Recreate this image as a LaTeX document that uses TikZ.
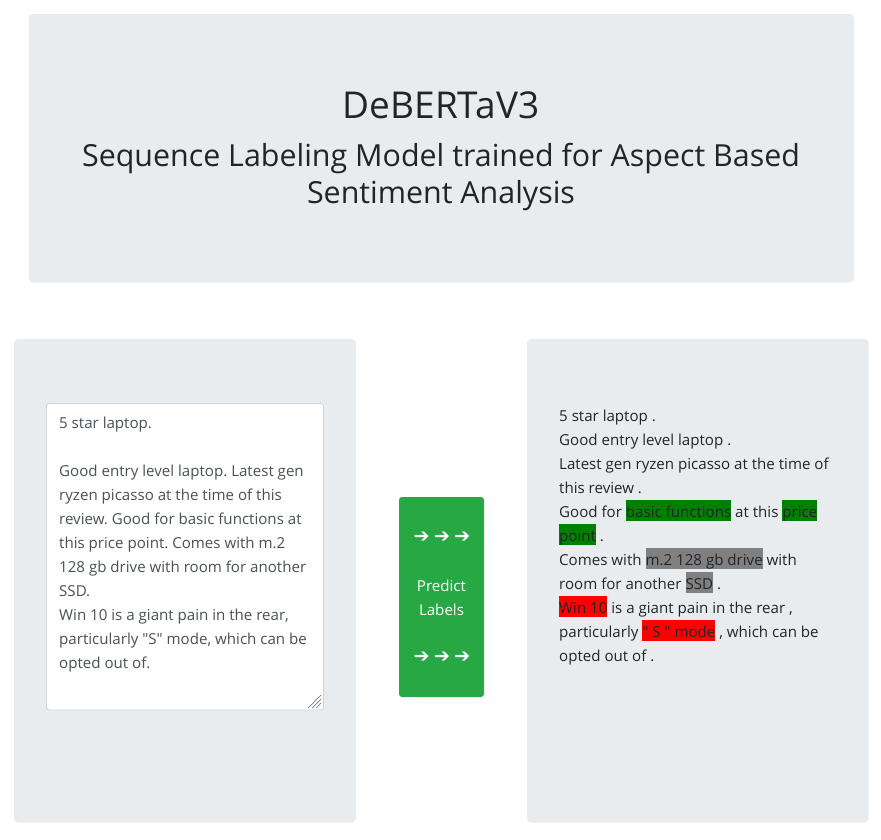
\documentclass[tikz,border=0pt]{standalone}
\usepackage{fontspec}
\setmainfont{Open Sans}
\newfontfamily\arrowfont{DejaVu Sans}
\frenchspacing
\definecolor{panelgray}{HTML}{E9ECEF}
\definecolor{bodytext}{HTML}{212529}
\definecolor{areatext}{HTML}{495057}
\definecolor{areaborder}{HTML}{CED4DA}
\definecolor{btngreen}{HTML}{28A745}
\definecolor{hlgreen}{HTML}{008000}
\definecolor{hlgray}{HTML}{808080}
\definecolor{hlred}{HTML}{FF0000}
\newcommand\hlword[2]{{\setlength\fboxsep{0pt}\colorbox{#1}{\rule[-4pt]{0pt}{21pt}#2}}}
\newcommand\dq{\XeTeXglyph\XeTeXcharglyph"22\relax}
\newcommand\arrowrow{➔\hspace{4.5pt}➔\hspace{4.5pt}➔}
\tikzset{
  panel/.style={fill=panelgray, draw=none, rounded corners=4pt},
  bodyline/.style={anchor=base west, inner sep=0pt, text=bodytext, font=\fontsize{15.1}{24}\selectfont},
  arealine/.style={anchor=base west, inner sep=0pt, text=areatext, font=\fontsize{15.1}{24}\selectfont},
  btntext/.style={anchor=base, inner sep=0pt, text=white, font=\fontsize{15.1}{24}\selectfont},
  arrowtext/.style={anchor=center, inner sep=0pt, text=white, font=\arrowfont\fontsize{19}{20}\selectfont},
}
\begin{document}
\begin{tikzpicture}[x=1pt, y=-1pt]
\useasboundingbox (0,0) rectangle (881,840);
% header
\draw[panel] (29,14) rectangle (854,282.5);
\node[anchor=base, inner sep=0pt, text=bodytext, font=\fontsize{37}{44}\selectfont] (title) at (441,119) {DeBERTaV3};
\node[anchor=base, inner sep=0pt, text=bodytext, font=\fontsize{30.4}{38}\selectfont] (sub1) at (441,167) {Sequence Labeling Model trained for Aspect Based};
\node[anchor=base, inner sep=0pt, text=bodytext, font=\fontsize{30.4}{38}\selectfont] (sub2) at (441,204) {Sentiment Analysis};
% panels
\draw[panel] (14,339) rectangle (356,822.5);
\draw[panel] (527,339) rectangle (868.5,822.5);
% textarea
\draw[fill=white, draw=areaborder, line width=0.8pt, rounded corners=3pt] (46.5,403.5) rectangle (323.5,710);
\foreach \a/\b in {0/0,4/4,8/8} {
  \draw[gray, line width=0.7pt] (308+\a,708) -- (321,695+\b);
}
\node[arealine] (t1) at (59,428) {5 star laptop.};
\node[arealine] (t2) at (59,476) {Good entry level laptop. Latest gen};
\node[arealine] (t3) at (59,500) {ryzen picasso at the time of this};
\node[arealine] (t4) at (59,524) {review. Good for basic functions at};
\node[arealine] (t5) at (59,548) {this price point. Comes with m.2};
\node[arealine] (t6) at (59,572) {128 gb drive with room for another};
\node[arealine] (t7) at (59,596) {SSD.};
\node[arealine] (t8) at (59,620) {Win 10 is a giant pain in the rear,};
\node[arealine] (t9) at (59,644) {particularly \dq S\dq{} mode, which can be};
\node[arealine] (t10) at (59,668) {opted out of.};
% button
\draw[fill=btngreen, draw=none, rounded corners=3pt] (399,497) rectangle (484,697);
\node[arrowtext] (arr1) at (442,537) {\arrowrow};
\node[btntext] (pred) at (441.5,591) {Predict};
\node[btntext] (lab) at (441.5,615) {Labels};
\node[arrowtext] (arr2) at (442,657) {\arrowrow};
% output text
\node[bodyline] (o1) at (559,421) {5 star laptop .};
\node[bodyline] (o2) at (559,445) {Good entry level laptop .};
\node[bodyline] (o3) at (559,469) {Latest gen ryzen picasso at the time of};
\node[bodyline] (o4) at (559,493) {this review .};
\node[bodyline] (o5) at (559,517) {Good for \hlword{hlgreen}{basic functions} at this \hlword{hlgreen}{price}};
\node[bodyline] (o6) at (559,541) {\hlword{hlgreen}{point} .};
\node[bodyline] (o7) at (559,565) {Comes with \hlword{hlgray}{m.2 128 gb drive} with};
\node[bodyline] (o8) at (559,589) {room for another \hlword{hlgray}{SSD} .};
\node[bodyline] (o9) at (559,613) {\hlword{hlred}{Win 10} is a giant pain in the rear ,};
\node[bodyline] (o10) at (559,637) {particularly \hlword{hlred}{\dq{} S \dq{} mode} , which can be};
\node[bodyline] (o11) at (559,661) {opted out of .};
\end{tikzpicture}
\end{document}
